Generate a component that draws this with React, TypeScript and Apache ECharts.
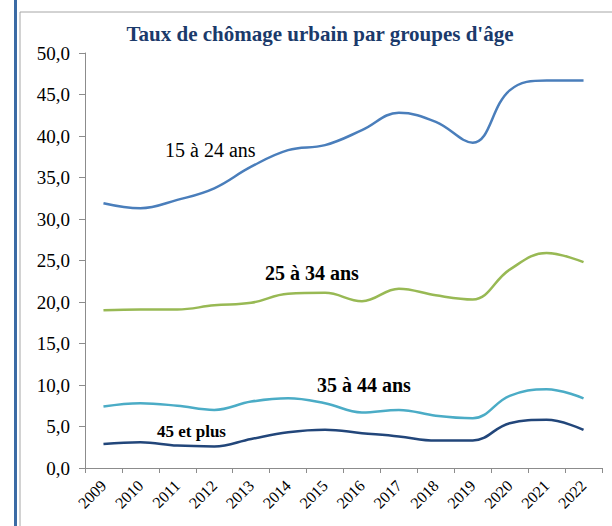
import React, { useEffect, useRef } from "react";
import * as echarts from "echarts";

const years = ["2009","2010","2011","2012","2013","2014","2015","2016","2017","2018","2019","2020","2021","2022"];
const age15to24 = [31.9, 31.3, 32.3, 33.7, 36.3, 38.3, 38.9, 40.7, 42.8, 41.7, 39.2, 45.5, 46.7, 46.7];
const age25to34 = [19.0, 19.1, 19.1, 19.6, 19.9, 21.0, 21.1, 20.1, 21.6, 20.8, 20.3, 23.9, 25.9, 24.8];
const age35to44 = [7.4, 7.8, 7.5, 7.0, 8.0, 8.4, 7.8, 6.7, 7.0, 6.3, 6.0, 8.7, 9.5, 8.4];
const age45plus = [2.9, 3.1, 2.7, 2.6, 3.5, 4.3, 4.6, 4.2, 3.8, 3.3, 3.3, 5.4, 5.8, 4.6];
const seriesNames = ["15 à 24 ans", "25 à 34 ans", "35 à 44 ans", "45 et plus"];
const titleText = "Taux de chômage urbain par groupes d'âge";

const FONT = "Liberation Serif";

export default function App() {
  const ref = useRef<HTMLDivElement>(null);
  useEffect(() => {
    if (!ref.current) return;
    const chart = echarts.init(ref.current, null, { renderer: "svg" });
    const mk = (name: string, data: number[], color: string) => ({
      name,
      type: "line",
      data,
      smooth: 0.4,
      symbol: "none",
      lineStyle: { color, width: 2.5 },
      itemStyle: { color },
    });
    chart.setOption({
      animation: false,
      backgroundColor: "#ffffff",
      textStyle: { fontFamily: FONT },
      title: {
        text: titleText,
        left: 315,
        textAlign: "center",
        top: 18,
        textStyle: { fontFamily: FONT, fontSize: 21, fontWeight: "bold", color: "#1B3A6B" },
      },
      grid: { left: 85, right: 10, top: 53, bottom: 58, containLabel: false },
      xAxis: {
        type: "category",
        data: years,
        boundaryGap: true,
        axisLine: { lineStyle: { color: "#8C8C8C", width: 1 } },
        axisTick: { show: true, alignWithLabel: false, length: 5, lineStyle: { color: "#8C8C8C" } },
        axisLabel: { rotate: 45, interval: 0, margin: 15, fontFamily: FONT, fontSize: 16, color: "#000" },
      },
      yAxis: {
        type: "value",
        min: 0,
        max: 50,
        interval: 5,
        splitLine: { show: false },
        axisLine: { show: true, lineStyle: { color: "#8C8C8C", width: 1 } },
        axisTick: { show: true, length: 6, lineStyle: { color: "#8C8C8C" } },
        axisLabel: {
          margin: 15,
          fontFamily: FONT,
          fontSize: 19,
          color: "#000",
          formatter: (v: number) => v.toFixed(1).replace(".", ","),
        },
      },
      series: [
        mk(seriesNames[0], age15to24, "#4A7EBB"),
        mk(seriesNames[1], age25to34, "#98B954"),
        mk(seriesNames[2], age35to44, "#4BACC6"),
        mk(seriesNames[3], age45plus, "#22467A"),
      ],
      graphic: [
        { type: "rect", shape: { x: 14, y: 0, width: 3, height: 526 }, style: { fill: "#3B6BA5" }, silent: true },
        { type: "rect", shape: { x: 20, y: 12, width: 600, height: 530 }, style: { fill: "none", stroke: "#A6A6A6", lineWidth: 1 }, silent: true },
        { type: "text", x: 165, y: 150, style: { text: seriesNames[0], fontFamily: FONT, fontSize: 20, fill: "#000", verticalAlign: "middle" } },
        { type: "text", x: 265, y: 273, style: { text: seriesNames[1], fontFamily: FONT, fontSize: 20, fontWeight: "bold", fill: "#000", verticalAlign: "middle" } },
        { type: "text", x: 317, y: 385, style: { text: seriesNames[2], fontFamily: FONT, fontSize: 20, fontWeight: "bold", fill: "#000", verticalAlign: "middle" } },
        { type: "text", x: 157, y: 431, style: { text: seriesNames[3], fontFamily: FONT, fontSize: 17, fontWeight: "bold", fill: "#000", verticalAlign: "middle" } },
      ],
    });
    return () => chart.dispose();
  }, []);
  return <div ref={ref} style={{ position: "fixed", left: 0, top: 0, width: 612, height: 526 }} />;
}
